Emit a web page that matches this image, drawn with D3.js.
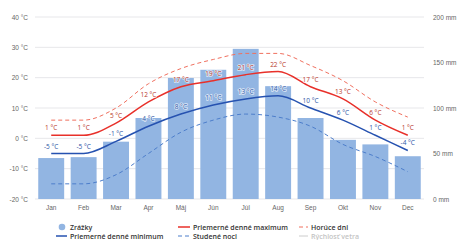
<!DOCTYPE html>
<html lang="sk">
<head>
<meta charset="UTF-8">
<title>klíma</title>
<script src="https://d3js.org/d3.v7.min.js"></script>
<style>
  body { margin: 0; background: #fff; }
  svg { font-family: "Open Sans", "DejaVu Sans", sans-serif; }
  .grid line { stroke: #e7e7ea; }
  .tick text { fill: #666; font-size: 6.5px; }
  .lbl { font-size: 6.5px; paint-order: stroke; stroke: #fff; stroke-width: 1.6px; stroke-opacity: .7; }
  .leg { font-size: 7px; font-weight: 600; fill: #333; }
</style>
</head>
<body>
<svg id="chart" width="461" height="240"></svg>
<script>
const months = ["Jan","Feb","Mar","Apr","Máj","Jún","Júl","Aug","Sep","Okt","Nov","Dec"];
const precip = [45, 46, 63, 89, 133, 142, 165, 124, 89, 65, 60, 47];
const maxT = [1, 1, 5, 12, 17, 19, 21, 22, 17, 13, 6, 1];
const minT = [-5, -5, -1, 4, 8, 11, 13, 14, 10, 6, 1, -4];
const hotDays = [6, 6, 10, 18, 23, 26, 28, 28, 24, 19, 12, 7];
const coldNights = [-15, -15, -12, -5, 2, 6, 8, 7, 4, -2, -6, -11];
const tempTicks = [-20, -10, 0, 10, 20, 30, 40];
const mmTicks = [0, 50, 100, 150, 200];

const svg = d3.select("#chart");
const x = d3.scaleBand().domain(months).range([35, 424]).paddingInner(0.2).paddingOuter(0.1);
const yT = d3.scaleLinear().domain([-20, 40]).range([199, 17]);
const yP = d3.scaleLinear().domain([0, 200]).range([199, 17]);
const cx = m => x(m) + x.bandwidth() / 2;

// gridlines
svg.append("g").attr("class", "grid")
  .selectAll("line").data(tempTicks).join("line")
  .attr("x1", 35).attr("x2", 424)
  .attr("y1", d => yT(d)).attr("y2", d => yT(d));

// left axis
const la = svg.append("g").attr("transform", "translate(28,0)")
  .call(d3.axisLeft(yT).tickValues(tempTicks).tickSize(0).tickPadding(0).tickFormat(d => d + " °C"));
la.select(".domain").remove();

// right axis
const ra = svg.append("g").attr("transform", "translate(433,0)")
  .call(d3.axisRight(yP).tickValues(mmTicks).tickSize(0).tickPadding(0).tickFormat(d => d + " mm"));
ra.select(".domain").remove();

// bottom axis
const ba = svg.append("g").attr("transform", "translate(0,202)")
  .call(d3.axisBottom(x).tickSize(0).tickPadding(3));
ba.select(".domain").remove();
ba.selectAll("text").style("font-size", "6.5px");

// bars
svg.append("g").selectAll("rect").data(precip).join("rect")
  .attr("x", (d, i) => x(months[i]))
  .attr("width", x.bandwidth())
  .attr("y", d => yP(d))
  .attr("height", d => yP(0) - yP(d))
  .attr("fill", "#92b5e2");

const line = d3.line().x((d, i) => cx(months[i])).y(d => yT(d)).curve(d3.curveMonotoneX);

svg.append("path").datum(coldNights).attr("d", line)
  .attr("fill", "none").attr("stroke", "#4d7ecb").attr("stroke-width", 1).attr("stroke-dasharray", "4,3");
svg.append("path").datum(hotDays).attr("d", line)
  .attr("fill", "none").attr("stroke", "#f0705f").attr("stroke-width", 1).attr("stroke-dasharray", "4,3");
svg.append("path").datum(minT).attr("d", line)
  .attr("fill", "none").attr("stroke", "#2652b0").attr("stroke-width", 1.5);
svg.append("path").datum(maxT).attr("d", line)
  .attr("fill", "none").attr("stroke", "#e8302a").attr("stroke-width", 1.5);

// value labels
svg.append("g").selectAll("text").data(maxT).join("text")
  .attr("class", "lbl").attr("text-anchor", "middle")
  .attr("x", (d, i) => cx(months[i])).attr("y", d => yT(d) - 5)
  .attr("fill", "#b8392b").text(d => d + " °C");
svg.append("g").selectAll("text").data(minT).join("text")
  .attr("class", "lbl").attr("text-anchor", "middle")
  .attr("x", (d, i) => cx(months[i])).attr("y", d => yT(d) - 5)
  .attr("fill", "#2c56a6").text(d => d + " °C");

// legend
const leg = svg.append("g");
const row1 = 227, row2 = 236;
leg.append("circle").attr("cx", 62).attr("cy", row1).attr("r", 3.3).attr("fill", "#92b5e2");
leg.append("text").attr("class", "leg").attr("x", 70).attr("y", row1 + 2.5).text("Zrážky");
leg.append("line").attr("x1", 56).attr("x2", 67).attr("y1", row2).attr("y2", row2).attr("stroke", "#2652b0").attr("stroke-width", 1.5);
leg.append("text").attr("class", "leg").attr("x", 70).attr("y", row2 + 2.5).text("Priemerné denné minimum");
leg.append("line").attr("x1", 178).attr("x2", 190).attr("y1", row1).attr("y2", row1).attr("stroke", "#e8302a").attr("stroke-width", 1.5);
leg.append("text").attr("class", "leg").attr("x", 193).attr("y", row1 + 2.5).text("Priemerné denné maximum");
leg.append("line").attr("x1", 178).attr("x2", 190).attr("y1", row2).attr("y2", row2).attr("stroke", "#4d7ecb").attr("stroke-width", 1).attr("stroke-dasharray", "4,3");
leg.append("text").attr("class", "leg").attr("x", 193).attr("y", row2 + 2.5).text("Studené noci");
leg.append("line").attr("x1", 299).attr("x2", 308).attr("y1", row1).attr("y2", row1).attr("stroke", "#f0705f").attr("stroke-width", 1).attr("stroke-dasharray", "4,3");
leg.append("text").attr("class", "leg").attr("x", 311).attr("y", row1 + 2.5).text("Horúce dni");
leg.append("line").attr("x1", 299).attr("x2", 308).attr("y1", row2).attr("y2", row2).attr("stroke", "#ccc").attr("stroke-width", 1);
leg.append("text").attr("class", "leg").attr("x", 311).attr("y", row2 + 2.5).attr("fill", "#c4c4c4").style("fill", "#c4c4c4").text("Rýchlosť vetra");
</script>
</body>
</html>
